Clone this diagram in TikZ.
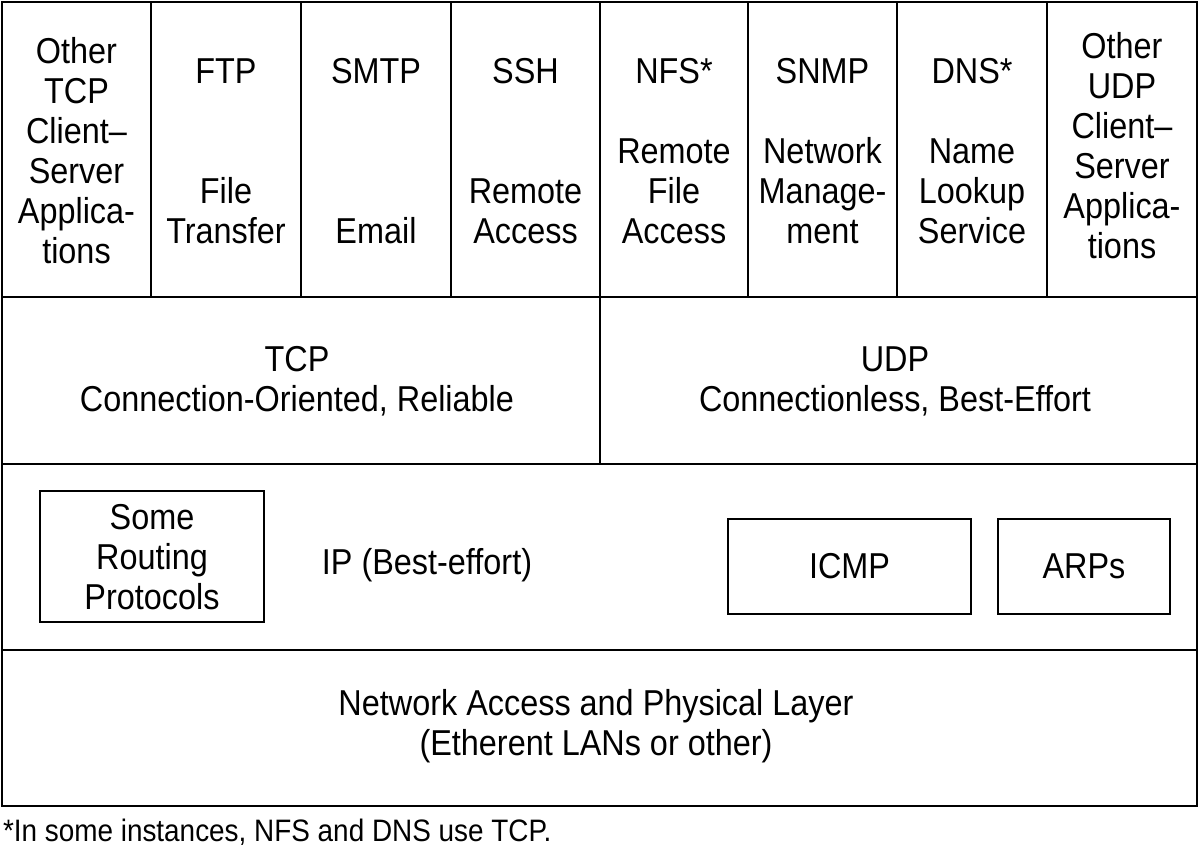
\documentclass[tikz,border=0pt]{standalone}
\usepackage{fontspec}
\setmainfont{Liberation Sans}[FakeStretch=0.9]
\begin{document}
\begin{tikzpicture}[x=1pt,y=-1pt,line width=2pt,
  lbl/.style={align=center,font=\fontsize{36}{40}\selectfont,inner sep=0pt},
  foot/.style={font=\fontsize{31}{36}\selectfont,inner sep=0pt,anchor=west}]
\useasboundingbox (0,0) rectangle (1199,852);
% frame and rows
\draw (2,2) rectangle (1197,806);
\foreach \x in {151,301,451,600,748,897,1047} \draw (\x,2) -- (\x,297);
\draw (2,297) -- (1197,297);
\draw (600,297) -- (600,464);
\draw (2,464) -- (1197,464);
\draw (2,650) -- (1197,650);
% inner boxes
\draw (40,491) rectangle (264,622);
\draw (728,519) rectangle (971,614);
\draw (998,519) rectangle (1170,614);
% application layer
\node[lbl] (otcp) at (76.5,151) {Other\\TCP\\Client--\\Server\\Applica-\\tions};
\node[lbl] (ftp) at (226,151) {FTP\\[80pt]File\\Transfer};
\node[lbl] (smtp) at (376,151) {SMTP\\[120pt]Email};
\node[lbl] (ssh) at (525.5,151) {SSH\\[80pt]Remote\\Access};
\node[lbl] (nfs) at (674,151) {NFS*\\[40pt]Remote\\File\\Access};
\node[lbl] (snmp) at (822.5,151) {SNMP\\[40pt]Network\\Manage-\\ment};
\node[lbl] (dns) at (972,151) {DNS*\\[40pt]Name\\Lookup\\Service};
\node[lbl] (oudp) at (1122,146) {Other\\UDP\\Client--\\Server\\Applica-\\tions};
% transport
\node[lbl] (tcp) at (297,381) {TCP\\Connection-Oriented, Reliable};
\node[lbl] (udp) at (895,381) {UDP\\Connectionless, Best-Effort};
% network
\node[lbl] (routing) at (152,557) {Some\\Routing\\Protocols};
\node[lbl] (ip) at (427,565) {IP (Best-effort)};
\node[lbl] (icmp) at (849.5,566) {ICMP};
\node[lbl] (arps) at (1084,566) {ARPs};
% link
\node[lbl] (net) at (596,726) {Network Access and Physical Layer\\(Etherent LANs or other)};
% footnote
\node[foot] (fn) at (2,832) {*In some instances, NFS and DNS use TCP.};
\end{tikzpicture}
\end{document}
